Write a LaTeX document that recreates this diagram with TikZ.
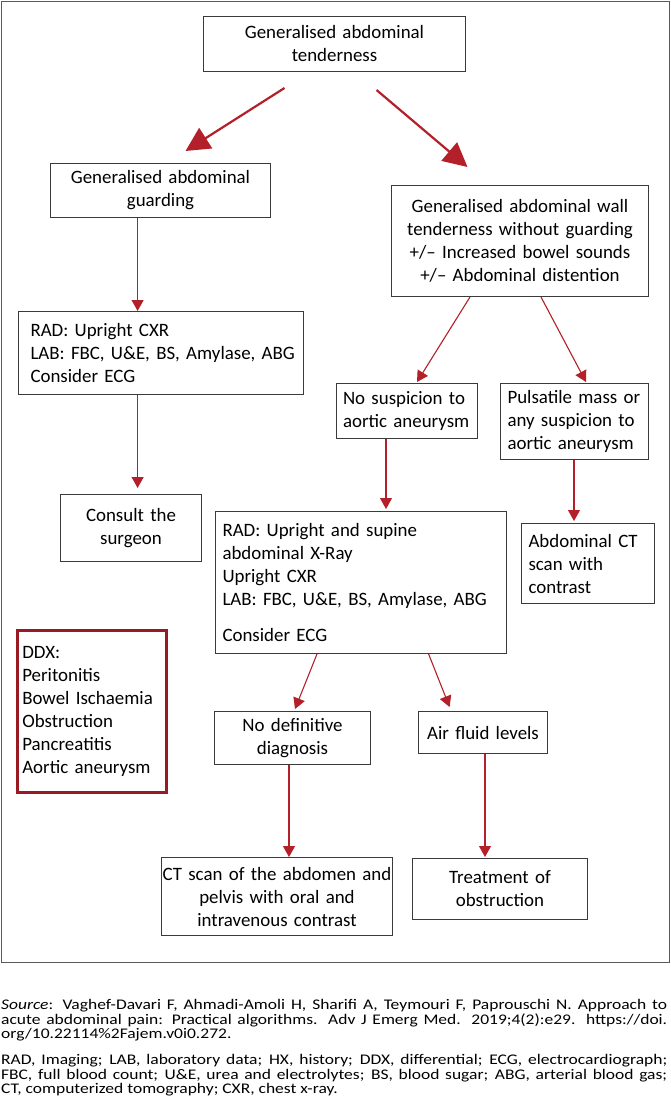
\documentclass[tikz,border=0pt]{standalone}
\usepackage{fontspec}
\setmainfont{Carlito}
\newfontfamily\capfont{Carlito}[FakeStretch=1.19]
\usetikzlibrary{arrows.meta,calc}
\definecolor{arr}{HTML}{B3202A}
\definecolor{boxc}{HTML}{3A3A3A}
\definecolor{framec}{HTML}{5A5A5A}
\tikzset{
  bx/.style={draw=boxc, line width=1pt, anchor=north west, inner ysep=0pt, font=\fontsize{18.9}{23}\selectfont},
  ddxbox/.style={bx, draw=arr!85!black, line width=2.6pt},
  thinarr/.style={draw=arr, line width=1.1pt, -{Triangle[length=11pt,width=12pt]}},
  bigarr/.style={draw=arr, line width=2.2pt, -{Triangle[length=24pt,width=24pt]}},
  captext/.style={anchor=north west, inner sep=0pt, text width=666pt, align=justify, font=\capfont\fontsize{14.7}{14.6}\selectfont}
}
\begin{document}
\begin{tikzpicture}[x=1pt,y=-1pt]
\useasboundingbox (0,0) rectangle (670,1103);
\draw[framec, line width=0.8pt] (1,1) rectangle (669,962);

\node[bx, minimum width=262pt, minimum height=55pt, text width=250pt, align=center] (top) at (203,16) {Generalised abdominal\\tenderness};
\node[bx, minimum width=220pt, minimum height=54pt, text width=208pt, align=center] (guard) at (50,163) {Generalised abdominal\\guarding};
\node[bx, minimum width=257pt, minimum height=111pt, text width=251pt, inner xsep=3pt, align=center] (wall) at (391,185) {Generalised abdominal wall\\tenderness without guarding\\+/– Increased bowel sounds\\+/– Abdominal distention};
\node[bx, minimum width=285pt, minimum height=83pt, text width=281pt, inner xsep=2pt, align=left] (rad1) at (18,311) {\hspace*{10pt}RAD: Upright CXR\\\hspace*{10pt}LAB: FBC, U\&E, BS, Amylase, ABG\\\hspace*{10pt}Consider ECG};
\node[bx, minimum width=141pt, minimum height=67pt, text width=131pt, inner xsep=5pt, align=center] (consult) at (60,494) {Consult the\\surgeon};
\node[bx, minimum width=141pt, minimum height=55pt, text width=134pt, inner xsep=3.5pt, align=left] (nosusp) at (336,383) {\hspace*{3pt}No suspicion to\\\hspace*{3pt}aortic aneurysm};
\node[bx, minimum width=148pt, minimum height=76pt, text width=140pt, inner xsep=4pt, align=left] (puls) at (500,383) {\hspace*{3pt}Pulsatile mass or\\\hspace*{3pt}any suspicion to\\\hspace*{3pt}aortic aneurysm};
\node[bx, minimum width=291pt, minimum height=142pt, text width=283pt, inner xsep=4pt, align=left] (rad2) at (215,511) {\hspace*{3pt}RAD: Upright and supine\\\hspace*{3pt}abdominal X-Ray\\\hspace*{3pt}Upright CXR\\\hspace*{3pt}LAB: FBC, U\&E, BS, Amylase, ABG\\[13pt]\hspace*{3pt}Consider ECG};
\node[bx, minimum width=133pt, minimum height=80pt, text width=125pt, inner xsep=4pt, align=left] (abdct) at (521,523) {\hspace*{3pt}Abdominal CT\\\hspace*{3pt}scan with\\\hspace*{3pt}contrast};
\node[ddxbox, minimum width=149pt, minimum height=162pt, text width=139pt, inner xsep=5pt, align=left] (ddx) at (16,629) {DDX:\\Peritonitis\\Bowel Ischaemia\\Obstruction\\Pancreatitis\\Aortic aneurysm};
\node[bx, minimum width=156pt, minimum height=53pt, text width=146pt, inner xsep=5pt, align=center] (nodef) at (214,711) {No definitive\\diagnosis};
\node[bx, minimum width=129pt, minimum height=42pt, text width=125pt, inner xsep=2pt, align=center] (air) at (418,711) {Air fluid levels};
\node[bx, minimum width=231pt, minimum height=78pt, text width=229pt, inner xsep=1pt, align=center] (ctscan) at (161,857) {CT scan of the abdomen and\\pelvis with oral and\\intravenous contrast};
\node[bx, minimum width=175pt, minimum height=61pt, text width=165pt, inner xsep=5pt, align=center] (treat) at (412,858) {Treatment of\\obstruction};

\draw[bigarr] ($(top.south)+(-50,16)$) -- ($(guard.north)+(25,-12)$);
\draw[bigarr] ($(top.south)+(42,18)$) -- ($(wall.north)+(-52.5,-18)$);
\draw[thinarr] ($(guard.south west)+(87.6,0)$) -- ($(rad1.north west)+(119.6,0)$);
\draw[thinarr] ($(rad1.south west)+(119.6,0)$) -- ($(consult.north west)+(77.6,-6)$);
\draw[thinarr] ($(wall.south west)+(79,0)$) -- ($(nosusp.north west)+(81,-1)$);
\draw[thinarr] ($(wall.south west)+(150,0)$) -- ($(puls.north west)+(86,-1)$);
\draw[thinarr] ($(nosusp.south west)+(50,0)$) -- ($(rad2.north west)+(171,-2)$);
\draw[thinarr] ($(puls.south west)+(74,0)$) -- ($(abdct.north west)+(53,-2)$);
\draw[thinarr] ($(rad2.south west)+(102,0)$) -- ($(nodef.north west)+(81,-2)$);
\draw[thinarr] ($(rad2.south west)+(213.6,0)$) -- ($(air.north west)+(31.6,-4)$);
\draw[thinarr] ($(nodef.south west)+(75,0)$) -- ($(ctscan.north west)+(128,0)$);
\draw[thinarr] ($(air.south west)+(67,0)$) -- ($(treat.north west)+(73,-1)$);

\node[captext] (src) at (1,999) {\textit{Source}: Vaghef-Davari F, Ahmadi-Amoli H, Sharifi A, Teymouri F, Paprouschi N. Approach to\linebreak acute abdominal pain: Practical algorithms. Adv J Emerg Med. 2019;4(2):e29. https://doi.\linebreak org/10.22114\%2Fajem.v0i0.272.};
\node[captext] (abbr) at (1,1054) {RAD, Imaging; LAB, laboratory data; HX, history; DDX, differential; ECG, electrocardiograph;\linebreak FBC, full blood count; U\&E, urea and electrolytes; BS, blood sugar; ABG, arterial blood gas;\linebreak CT, computerized tomography; CXR, chest x-ray.};
\end{tikzpicture}
\end{document}
